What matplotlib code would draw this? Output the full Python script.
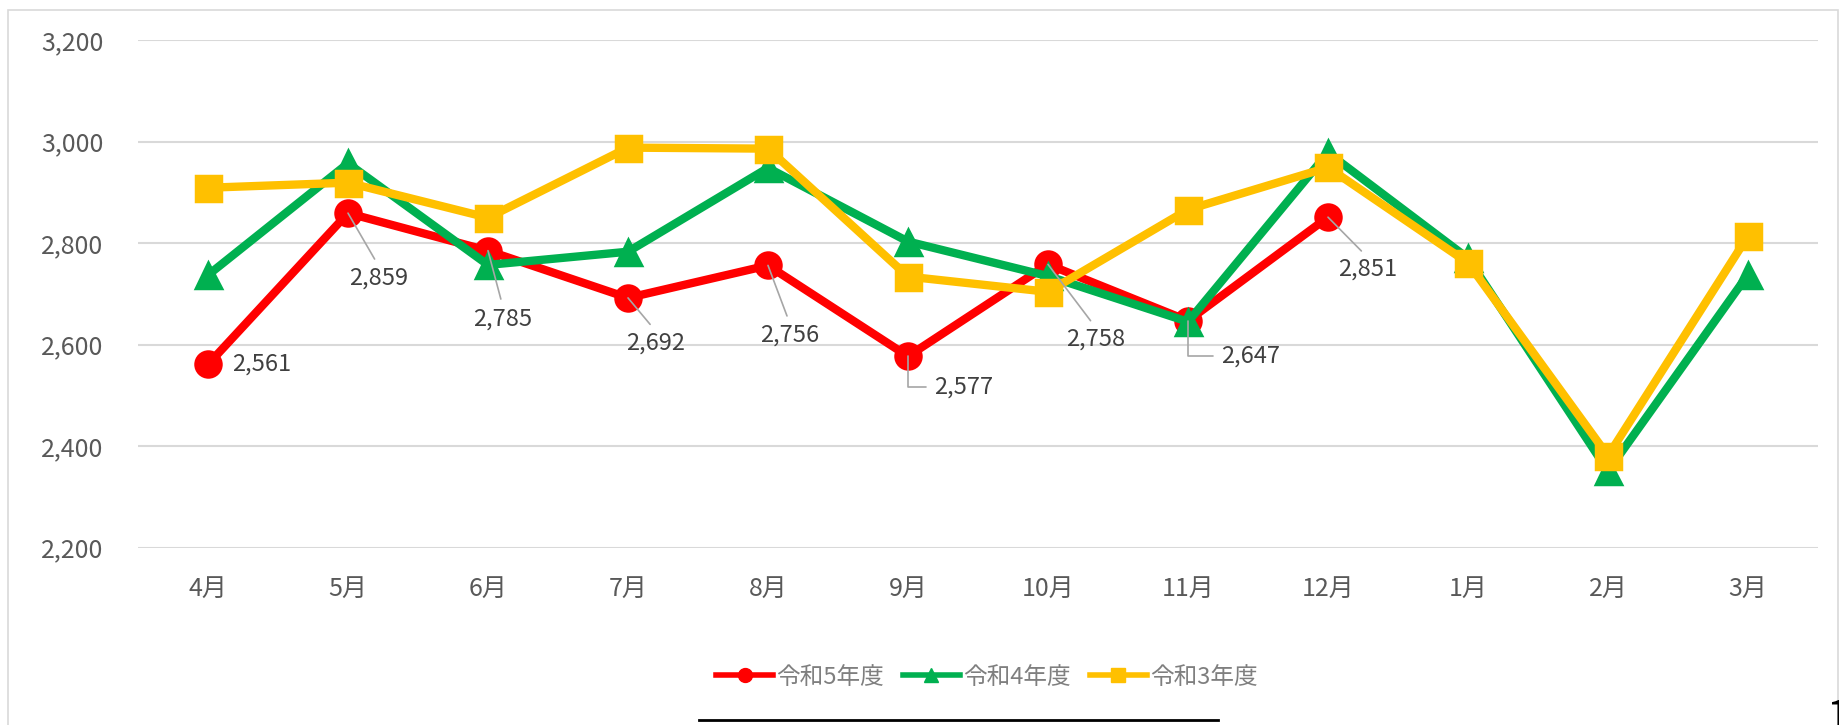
import matplotlib
matplotlib.use('Agg')
import matplotlib.pyplot as plt
from matplotlib.patches import Rectangle
from matplotlib.lines import Line2D

plt.rcParams['font.family'] = ['Noto Sans CJK JP', 'DejaVu Sans']

months = ['4月', '5月', '6月', '7月', '8月', '9月', '10月', '11月', '12月', '1月', '2月', '3月']
r5 = [2561, 2859, 2785, 2692, 2756, 2577, 2758, 2647, 2851]   # 令和5年度 (Apr-Dec)
r4 = [2737, 2957, 2757, 2783, 2948, 2803, 2735, 2645, 2978, 2770, 2351, 2738]
r3 = [2909, 2919, 2850, 2988, 2986, 2734, 2704, 2866, 2949, 2761, 2381, 2814]
series_names = ['令和5年度', '令和4年度', '令和3年度']
yticks = [2200, 2400, 2600, 2800, 3000, 3200]

# label offsets in pixels (dx, dy) and whether the leader is an elbow
label_pos = [(24, 0, 'none'), (31, -65, 'line'), (15, -68, 'line'), (28, -45, 'line'),
             (22, -70, 'line'), (26, -31, 'elbow'), (48, -75, 'line'), (33, -35, 'elbow'),
             (40, -52, 'line')]

RED = '#FF0000'
GREEN = '#00B050'
YELLOW = '#FFC000'

fig = plt.figure(figsize=(18.4, 7.25), dpi=100)
ax = fig.add_axes([138 / 1840, 1 - 547.7 / 725, 1680 / 1840, (547.7 - 40) / 725])

x = list(range(len(months)))
kw = dict(lw=6, solid_joinstyle='round', solid_capstyle='round', ms=18, mew=2.5)
ax.plot(x[:len(r5)], r5, color=RED, marker='o', zorder=3, label=series_names[0], **kw)
ax.plot(x, r4, color=GREEN, marker='^', zorder=4, label=series_names[1], **kw)
ax.plot(x, r3, color=YELLOW, marker='s', zorder=5, label=series_names[2], **kw)

for i, (v, (dx, dy, kind)) in enumerate(zip(r5, label_pos)):
    txt = f'{v:,}'
    if kind == 'none':
        ax.annotate(txt, (i, v), xytext=(dx, dy), textcoords='offset pixels',
                    ha='left', va='center', fontsize=17, color='#404040', zorder=6)
    elif kind == 'line':
        ax.annotate(txt, (i, v), xytext=(dx, dy), textcoords='offset pixels',
                    ha='center', va='center', fontsize=17, color='#404040', zorder=6,
                    arrowprops=dict(arrowstyle='-', color='#A6A6A6', lw=1.2,
                                    shrinkA=4, shrinkB=0, relpos=(0.5, 1.0)))
    else:
        ax.annotate(txt, (i, v), xytext=(dx, dy), textcoords='offset pixels',
                    ha='left', va='center', fontsize=17, color='#404040', zorder=6,
                    arrowprops=dict(arrowstyle='-', color='#A6A6A6', lw=1.2,
                                    shrinkA=4, shrinkB=0, relpos=(0.0, 0.5),
                                    connectionstyle='angle,angleA=0,angleB=90,rad=0'))

ax.set_xlim(-0.5, len(months) - 0.5)
ax.set_ylim(2200, 3200)
ax.set_yticks(yticks)
ax.set_yticklabels([f'{t:,}' for t in yticks])
ax.set_xticks(x)
ax.set_xticklabels(months)
ax.grid(axis='y', color='#D9D9D9', lw=1.5, zorder=0)
ax.set_axisbelow(True)
for s in ax.spines.values():
    s.set_visible(False)
ax.tick_params(axis='both', length=0, labelsize=18, colors='#595959')
ax.tick_params(axis='y', pad=25)
ax.tick_params(axis='x', pad=20)

handles = [Line2D([], [], color=c, marker=m, lw=4, ms=10) for c, m in
           [(RED, 'o'), (GREEN, '^'), (YELLOW, 's')]]
fig.legend(handles, series_names, loc='center', bbox_to_anchor=(987 / 1840, 1 - 677 / 725),
           ncol=3, frameon=False, fontsize=17, labelcolor='#7F7F7F',
           handlelength=2.4, handletextpad=0.15, columnspacing=0.8)

# chart frame and stray marks from the screenshot
fig.add_artist(Rectangle((8 / 1840, -0.1), 1830 / 1840, 1.1 - 10 / 725,
                         transform=fig.transFigure, fill=False, ec='#D9D9D9', lw=1.2))
fig.add_artist(Line2D([699 / 1840, 1218 / 1840], [1 - 720 / 725] * 2,
                      transform=fig.transFigure, color='black', lw=2))
fig.text(1826 / 1840, 1 - 698 / 725, '1', va='top', ha='left', fontsize=30, color='black')

fig.savefig('out.png', dpi=100)
